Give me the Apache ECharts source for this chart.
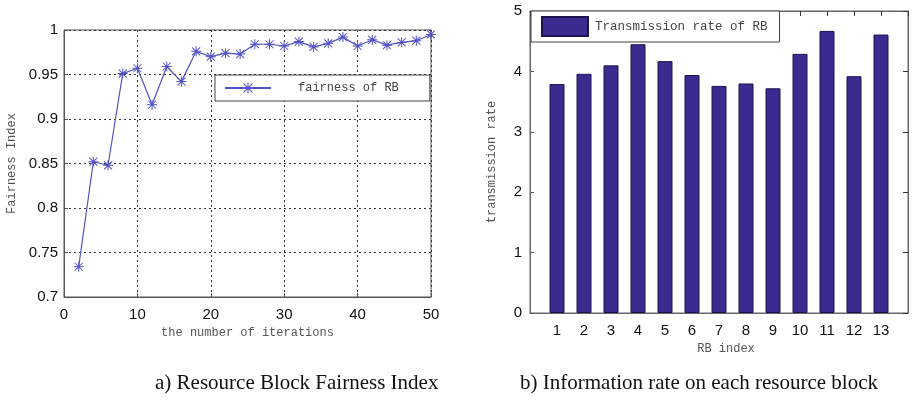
<!DOCTYPE html>
<html>
<head>
<meta charset="utf-8">
<script src="https://cdn.jsdelivr.net/npm/echarts@6/dist/echarts.min.js"></script>
<style>
html,body{margin:0;padding:0;background:#fff;}
#chart{width:912px;height:401px;}
</style>
</head>
<body>
<div id="chart"></div>
<script>
// ---- Data ----
const iterations = [2,4,6,8,10,12,14,16,18,20,22,24,26,28,30,32,34,36,38,40,42,44,46,48,50];
const fairness = [0.734,0.852,0.848,0.951,0.957,0.916,0.959,0.942,0.976,0.970,0.974,0.973,0.984,0.984,0.982,0.987,0.981,0.985,0.992,0.982,0.989,0.983,0.986,0.988,0.995];
const rbIndex = [1,2,3,4,5,6,7,8,9,10,11,12,13];
const rate = [3.79,3.96,4.10,4.45,4.17,3.94,3.76,3.80,3.72,4.29,4.67,3.92,4.61];
const fairnessName = 'fairness of RB';
const rateName = 'Transmission rate of RB';
const captionA = 'a) Resource Block Fairness Index';
const captionB = 'b) Information rate on each resource block';

const chart = echarts.init(document.getElementById('chart'), null, {renderer:'canvas'});
const star = 'path://M9 0L11 0L11 20L9 20Z M0 9L20 9L20 11L0 11Z M1.3 2.7L2.7 1.3L18.7 17.3L17.3 18.7Z M17.3 1.3L18.7 2.7L2.7 18.7L1.3 17.3Z';
const tickFont = {fontFamily:'Liberation Sans, Arial, sans-serif', fontSize:15, color:'#111'};
const nameFont = {fontFamily:'Liberation Mono, monospace', fontSize:12, color:'#555'};
const dotted = {color:'#333', width:1, type:[2,3]};
const lineColor = '#5252c4';
const barColor = '#392c8e';

const option = {
  animation:false,
  grid:[
    {left:64, top:30, width:367, height:267, show:true, borderColor:'#555', borderWidth:1, backgroundColor:'transparent'},
    {left:530, top:11, width:378, height:302, show:true, borderColor:'#666', borderWidth:1, backgroundColor:'transparent'}
  ],
  legend:[
    {
      data:[fairnessName],
      left:215, top:75,
      orient:'horizontal',
      backgroundColor:'#fff',
      borderColor:'#444', borderWidth:1, borderRadius:0,
      padding:[7,31,7,9],
      itemWidth:46, itemHeight:14,
      textStyle:{fontFamily:'Liberation Mono, monospace', fontSize:12, color:'#444', padding:[0,0,0,22]}
    },
    {
      data:[{name:rateName, icon:'rect'}],
      left:531, top:11,
      backgroundColor:'#fff',
      borderColor:'#444', borderWidth:1, borderRadius:0,
      padding:[5,12,5,10],
      itemWidth:46, itemHeight:19,
      textStyle:{fontFamily:'Liberation Mono, monospace', fontSize:12.5, color:'#444', padding:[0,0,0,2]}
    }
  ],
  xAxis:[
    {
      gridIndex:0, type:'value', min:0, max:50, interval:10,
      axisLine:{show:true, lineStyle:{color:'#555'}},
      axisTick:{show:true, inside:true, length:4, lineStyle:{color:'#555'}},
      axisLabel:{...tickFont, margin:10},
      splitLine:{show:true, lineStyle:dotted},
      name:'the number of iterations', nameLocation:'middle', nameGap:30,
      nameTextStyle:nameFont
    },
    {
      gridIndex:1, type:'value', min:0, max:14, interval:1,
      axisLine:{show:true, onZero:false, lineStyle:{color:'#666'}},
      axisTick:{show:false},
      axisLabel:{...tickFont, margin:10, formatter:v => (v>=1 && v<=13) ? String(v) : ''},
      splitLine:{show:false},
      name:'RB index', nameLocation:'middle', nameGap:30,
      nameTextStyle:{...nameFont, padding:[0,0,0,14]}
    },
    {
      gridIndex:1, type:'value', position:'top', min:0, max:14, interval:1,
      axisLine:{show:true, onZero:false, lineStyle:{color:'#666'}},
      axisTick:{show:true, inside:true, length:5, lineStyle:{color:'#333', width:1}},
      axisLabel:{show:false},
      splitLine:{show:false}
    }
  ],
  yAxis:[
    {
      gridIndex:0, type:'value', min:0.7, max:1, interval:0.05,
      axisLine:{show:true, lineStyle:{color:'#555'}},
      axisTick:{show:true, inside:true, length:4, lineStyle:{color:'#555'}},
      axisLabel:{...tickFont, margin:6, formatter:v => String(+v.toFixed(2))},
      splitLine:{show:true, lineStyle:dotted},
      name:'Fairness Index', nameLocation:'middle', nameGap:46,
      nameTextStyle:nameFont
    },
    {
      gridIndex:1, type:'value', min:0, max:5, interval:1,
      axisLine:{show:true, lineStyle:{color:'#666'}},
      axisTick:{show:true, inside:true, length:4, lineStyle:{color:'#555'}},
      axisLabel:{...tickFont, margin:8},
      splitLine:{show:false},
      name:'transmission rate', nameLocation:'middle', nameGap:32,
      nameTextStyle:nameFont
    },
    {
      gridIndex:1, type:'value', position:'right', min:0, max:5, interval:1,
      axisLine:{show:true, onZero:false, lineStyle:{color:'#666'}},
      axisTick:{show:true, inside:true, length:5, lineStyle:{color:'#333', width:1}},
      axisLabel:{show:false},
      splitLine:{show:false}
    }
  ],
  series:[
    {
      name:fairnessName, type:'line', xAxisIndex:0, yAxisIndex:0,
      data:iterations.map((x,i)=>[x,fairness[i]]),
      symbol:star, symbolSize:10,
      lineStyle:{color:lineColor, width:1.2},
      itemStyle:{color:lineColor},
      z:5
    },
    {
      name:rateName, type:'bar', xAxisIndex:1, yAxisIndex:1,
      data:rbIndex.map((x,i)=>[x,rate[i]]),
      barWidth:15,
      itemStyle:{color:barColor, borderColor:'#1c1450', borderWidth:1}
    }
  ],
  graphic:[
    {type:'text', left:155, top:373, style:{text:captionA, font:'21px "Liberation Serif", "Times New Roman", serif', fill:'#111'}},
    {type:'text', left:520, top:373, style:{text:captionB, font:'21px "Liberation Serif", "Times New Roman", serif', fill:'#111'}}
  ]
};
chart.setOption(option);
</script>
</body>
</html>
